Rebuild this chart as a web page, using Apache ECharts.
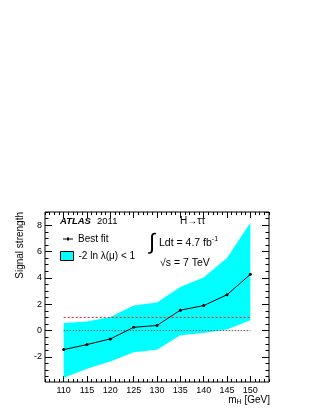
<!DOCTYPE html>
<html>
<head>
<meta charset="utf-8">
<title>Signal strength H→ττ</title>
<script src="https://cdn.jsdelivr.net/npm/echarts@6/dist/echarts.min.js"></script>
<style>
  html, body { margin: 0; padding: 0; background: #fff; }
  #chart { width: 323px; height: 418px; }
</style>
</head>
<body>
<div id="chart"></div>
<script>
// masses (GeV)
const masses = [110, 115, 120, 125, 130, 135, 140, 145, 150];
// best fit signal strength
const bestFit = [-1.44, -1.06, -0.63, 0.25, 0.39, 1.55, 1.9, 2.72, 4.27];
// -2 ln lambda(mu) < 1 band
const bandLow = [-3.58, -2.9, -2.34, -1.64, -1.46, -0.35, -0.18, 0.08, 0.78];
const bandHigh = [0.57, 0.69, 1.03, 1.91, 2.14, 3.3, 4.03, 5.5, 8.19];
// reference lines
const refX = [110, 150];
const refOne = [1, 1];
const refZero = [0, 0];
// tick values
const xMajor = [110, 115, 120, 125, 130, 135, 140, 145, 150];
const xMinor = [];
for (let v = 106; v <= 154; v++) xMinor.push(v);
const yMajor = [-2, 0, 2, 4, 6, 8];
const yMinor = [];
for (let v = -3.5; v <= 9; v += 0.5) yMinor.push(v);

const FONT = '"Liberation Sans", Arial, Helvetica, sans-serif';
const X_MIN = 106, X_MAX = 154, Y_MIN = -3.9, Y_MAX = 9;

const chart = echarts.init(document.getElementById('chart'));

function tickAxis(pos, min, max, values, len, labels) {
    return {
        type: 'value', position: pos, min: min, max: max,
        axisLine: { show: false, onZero: false },
        splitLine: { show: false },
        axisTick: { show: true, inside: true, length: len, customValues: values,
                    lineStyle: { color: '#000', width: 1 } },
        axisLabel: labels ? { show: true, customValues: values, color: '#000',
                              fontFamily: FONT, fontSize: 9, margin: 4 }
                          : { show: false }
    };
}

const xAxes = [
    tickAxis('bottom', X_MIN, X_MAX, xMajor, 6, true),
    tickAxis('bottom', X_MIN, X_MAX, xMinor, 3, false),
    tickAxis('top', X_MIN, X_MAX, xMajor, 6, false),
    tickAxis('top', X_MIN, X_MAX, xMinor, 3, false)
];
const yAxes = [
    tickAxis('left', Y_MIN, Y_MAX, yMajor, 7, true),
    tickAxis('left', Y_MIN, Y_MAX, yMinor, 3.5, false),
    tickAxis('right', Y_MIN, Y_MAX, yMajor, 7, false),
    tickAxis('right', Y_MIN, Y_MAX, yMinor, 3.5, false)
];
yAxes[0].axisLabel.margin = 3;

// a series has to sit on every axis so each one gets drawn
const dummy = [];
for (let i = 1; i < 4; i++) {
    dummy.push({ type: 'line', xAxisIndex: i, yAxisIndex: i, data: [], silent: true });
}

// band polygon: upper edge left to right, lower edge back
function renderBand(params, api) {
    if (params.dataIndex !== 0) return null;
    const pts = [];
    for (let i = 0; i < masses.length; i++) pts.push(api.coord([masses[i], bandHigh[i]]));
    for (let i = masses.length - 1; i >= 0; i--) pts.push(api.coord([masses[i], bandLow[i]]));
    return { type: 'polygon', shape: { points: pts }, style: { fill: '#00ffff' } };
}

const BAND = '-2 ln λ(μ) < 1';

chart.setOption({
    animation: false,
    backgroundColor: '#fff',
    textStyle: { fontFamily: FONT },
    grid: { left: 45, top: 212, width: 224, height: 170, show: true,
            borderColor: '#000', borderWidth: 1, backgroundColor: 'transparent' },
    xAxis: xAxes,
    yAxis: yAxes,
    legend: [
        {
            left: 63, top: 234, padding: 0, itemWidth: 10, itemHeight: 3, itemTextGap: 4,
            textStyle: { fontFamily: FONT, fontSize: 10, color: '#000' },
            data: [{ name: 'Best fit',
                     icon: 'path://M0,1 L10,1 L10,2 L0,2 Z M4,0 L6,0 L6,3 L4,3 Z',
                     itemStyle: { color: '#000', borderWidth: 0 } }]
        },
        {
            left: 60, top: 251, padding: 0, itemWidth: 13, itemHeight: 9, itemTextGap: 4,
            textStyle: { fontFamily: FONT, fontSize: 10, color: '#000' },
            data: [{ name: BAND, icon: 'rect',
                     itemStyle: { color: '#00ffff', borderColor: '#000', borderWidth: 1 } }]
        }
    ],
    series: [
        {
            name: BAND, type: 'custom', renderItem: renderBand,
            data: masses.map((m, i) => [m, bandLow[i], bandHigh[i]]),
            encode: { x: 0, y: [1, 2] },
            itemStyle: { color: '#00ffff' }, silent: true, z: 1
        },
        {
            name: 'one', type: 'line', data: refX.map((x, i) => [x, refOne[i]]),
            symbol: 'none', silent: true,
            lineStyle: { color: '#ff2020', width: 1, type: [2, 2] }, z: 3
        },
        {
            name: 'zero', type: 'line', data: refX.map((x, i) => [x, refZero[i]]),
            symbol: 'none', silent: true,
            lineStyle: { color: '#555', width: 1, type: [1.5, 1.5] }, z: 3
        },
        {
            name: 'Best fit', type: 'line', data: masses.map((m, i) => [m, bestFit[i]]),
            symbol: 'circle', symbolSize: 3, showSymbol: true,
            lineStyle: { color: '#000', width: 1 }, itemStyle: { color: '#000' }, z: 4
        }
    ].concat(dummy),
    graphic: [
        { type: 'text', x: 60, y: 221,
          style: { text: 'ATLAS', font: 'italic bold 9.5px ' + FONT, fill: '#000',
                   verticalAlign: 'middle' } },
        { type: 'text', x: 97, y: 221,
          style: { text: '2011', font: '9.5px ' + FONT, fill: '#000', verticalAlign: 'middle' } },
        { type: 'text', x: 180, y: 221,
          style: { text: 'H→ττ', font: '10px ' + FONT, fill: '#000', verticalAlign: 'middle' } },
        { type: 'text', x: 149, y: 243,
          style: { text: '∫', font: '22px ' + FONT, fill: '#000', verticalAlign: 'middle' } },
        { type: 'text', x: 159, y: 243,
          style: { text: '{a|Ldt = 4.7 fb}{s|-1}', verticalAlign: 'middle', fill: '#000',
                   rich: { a: { font: '10.5px ' + FONT, fill: '#000', lineHeight: 14 },
                           s: { font: '7px ' + FONT, fill: '#000', lineHeight: 14,
                                padding: [0, 0, 7, 0] } } } },
        { type: 'text', x: 160, y: 263,
          style: { text: '√s = 7 TeV', font: '10.5px ' + FONT, fill: '#000', verticalAlign: 'middle' } },
        { type: 'text', x: 20, y: 212, rotation: Math.PI / 2,
          style: { text: 'Signal strength', font: '10px ' + FONT, fill: '#000',
                   align: 'right', verticalAlign: 'middle' } },
        { type: 'text', x: 270, y: 400,
          style: { text: '{a|m}{s|H}{a| [GeV]}', align: 'right', verticalAlign: 'middle', fill: '#000',
                   rich: { a: { font: '10px ' + FONT, fill: '#000', lineHeight: 14 },
                           s: { font: '7px ' + FONT, fill: '#000', lineHeight: 14,
                                padding: [5, 0, 0, 0] } } } }
    ]
});
</script>
</body>
</html>
